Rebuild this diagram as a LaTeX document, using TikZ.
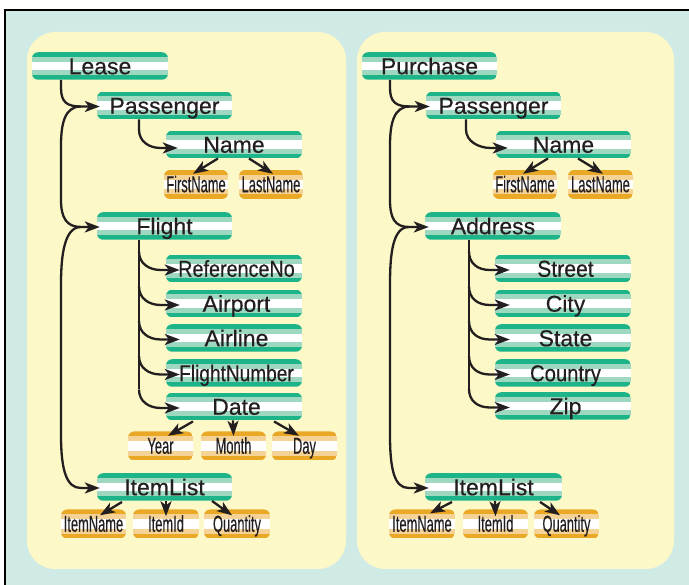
\documentclass[tikz,border=0pt]{standalone}
\usepackage{fontspec}
\setmainfont{Liberation Sans}
\newfontfamily\labelfont[FakeBold=0.45]{Liberation Sans}
\usepackage{graphicx}
\usetikzlibrary{arrows.meta,calc}

\definecolor{gdark}{RGB}{30,180,138}
\definecolor{glight}{RGB}{158,216,192}
\definecolor{odark}{RGB}{233,168,38}
\definecolor{olight}{RGB}{245,210,150}
\definecolor{cyanbg}{RGB}{208,234,229}
\definecolor{panelbg}{RGB}{252,248,200}
\definecolor{ink}{RGB}{35,31,32}

% five horizontal bands: dark / light / white / light / dark
\newcommand\pillstripes[2]{%
  \fill[#1,sharp corners] (path picture bounding box.south west) rectangle (path picture bounding box.north east);
  \fill[#2,sharp corners] ($(path picture bounding box.south west)!0.16!(path picture bounding box.north west)$) rectangle ($(path picture bounding box.north east)!0.16!(path picture bounding box.south east)$);
  \fill[white,sharp corners] ($(path picture bounding box.south west)!0.34!(path picture bounding box.north west)$) rectangle ($(path picture bounding box.north east)!0.34!(path picture bounding box.south east)$);
}
\newcommand\nar[1]{\scalebox{0.56}[1]{#1}}
\newcommand\sq[2]{\scalebox{#1}[1]{#2}}

\tikzset{
  pill/.style={rectangle, rounded corners=6pt, inner sep=0pt, text=ink},
  gpill/.style={pill, minimum height=27.5pt, font=\labelfont\fontsize{23}{23}\selectfont,
    text height=16.5pt, text depth=0pt, path picture={\pillstripes{gdark}{glight}}},
  opill/.style={pill, minimum height=29pt, font=\labelfont\fontsize{23}{23}\selectfont,
    text height=15.5pt, text depth=0pt, path picture={\pillstripes{odark}{olight}}},
  ch/.style={execute at begin node={\hspace*{5pt}}},
  wire/.style={draw=ink, line width=2.3pt},
  conn/.style={wire, -{Stealth[length=15pt,width=11pt,inset=4pt]}},
}

\begin{document}
\begin{tikzpicture}[x=1pt,y=-1pt]
\useasboundingbox (0,0) rectangle (689,585);
\fill[white] (0,0) rectangle (689,585);
\fill[cyanbg] (5,10) rectangle (689,585);
\draw[black, line width=2pt] (5,585) -- (5,10) -- (689,10);
\fill[panelbg, rounded corners=28pt] (27,32) rectangle (346,569);
\fill[panelbg, rounded corners=28pt] (357,32) rectangle (674,569);

% trunk positions
\coordinate (trunkL) at (61,0);
\coordinate (subL) at (139,0);
\coordinate (trunkR) at (390,0);
\coordinate (pnR) at (466,0);
\coordinate (subR) at (469,0);

% ---------- Lease ----------
\node[gpill, minimum width=136pt] (lease) at (100,66) {Lease};
\node[gpill, minimum width=135pt] (passL) at (164.5,105.5) {Passenger};
\node[gpill, minimum width=136pt] (nameL) at (234,144.5) {Name};
\node[opill, minimum width=64pt] (firstL) at (196,184.5) {\nar{FirstName}};
\node[opill, minimum width=64pt] (lastL) at (271,184.5) {\nar{LastName}};
\node[gpill, minimum width=135pt] (flight) at (164.5,226) {Flight};
\node[gpill, ch, minimum width=136pt] (refno) at (234,268.5) {\sq{0.86}{ReferenceNo}};
\node[gpill, ch, minimum width=136pt] (airport) at (234,303.5) {Airport};
\node[gpill, ch, minimum width=136pt] (airline) at (234,338) {Airline};
\node[gpill, ch, minimum width=136pt] (fnum) at (234,373) {\sq{0.83}{FlightNumber}};
\node[gpill, ch, minimum width=136pt] (date) at (234,406.5) {Date};
\node[opill, minimum width=65pt] (year) at (160.5,446) {\nar{Year}};
\node[opill, minimum width=65pt] (month) at (233.5,446) {\nar{Month}};
\node[opill, minimum width=65pt] (day) at (304.5,446) {\nar{Day}};
\node[gpill, minimum width=135pt] (itemL) at (164.5,487) {ItemList};
\node[opill, minimum width=65pt] (inameL) at (93.5,524) {\nar{ItemName}};
\node[opill, minimum width=66pt] (iidL) at (166,524) {\nar{ItemId}};
\node[opill, minimum width=66pt] (qtyL) at (237,524) {\nar{Quantity}};

% ---------- Purchase ----------
\node[gpill, minimum width=135pt] (purchase) at (429.5,66) {Purchase};
\node[gpill, minimum width=135pt] (passR) at (493.5,105.5) {Passenger};
\node[gpill, minimum width=135pt] (nameR) at (563.5,144.5) {Name};
\node[opill, minimum width=64pt] (firstR) at (525,184.5) {\nar{FirstName}};
\node[opill, minimum width=65pt] (lastR) at (600.5,184.5) {\nar{LastName}};
\node[gpill, minimum width=136pt] (address) at (493,226) {Address};
\node[gpill, ch, minimum width=136pt] (street) at (563,268.5) {\sq{0.92}{Street}};
\node[gpill, ch, minimum width=136pt] (city) at (563,303.5) {City};
\node[gpill, ch, minimum width=136pt] (state) at (563,338) {State};
\node[gpill, ch, minimum width=136pt] (country) at (563,373) {\sq{0.88}{Country}};
\node[gpill, ch, minimum width=136pt] (zip) at (563,406) {Zip};
\node[gpill, minimum width=137pt] (itemR) at (493.5,487) {ItemList};
\node[opill, minimum width=66pt] (inameR) at (422,524) {\nar{ItemName}};
\node[opill, minimum width=65pt] (iidR) at (495.5,524) {\nar{ItemId}};
\node[opill, minimum width=65pt] (qtyR) at (566.5,524) {\nar{Quantity}};

% ---------- Lease connectors ----------
\draw[conn] (lease.south -| trunkL) -- ++(0,8) .. controls +(0,14) and +(-14,0) .. ($(passL.west)+(-16,1)$) -- ($(passL.west)+(3,1)$);
\draw[conn] ($(passL.west)+(-16,1)$) .. controls +(-16,0) and +(0,-22) .. ($(passL.west -| trunkL)+(0,40)$)
  -- ($(flight.west -| trunkL)+(0,-26)$) .. controls +(0,18) and +(-14,0) .. ($(flight.west)+(-16,1)$) -- ($(flight.west)+(3,1)$);
\draw[conn] ($(flight.west)+(-16,1)$) .. controls +(-16,0) and +(0,-30) .. ($(flight.west -| trunkL)+(0,58)$)
  -- ($(itemL.west -| trunkL)+(0,-52)$) .. controls +(0,36) and +(-14,0) .. ($(itemL.west)+(-16,1)$) -- ($(itemL.west)+(3,1)$);

\draw[conn] (passL.south -| subL) -- ($(nameL.west -| subL)+(0,-15)$) .. controls +(0,12) and +(-12,0) .. ($(nameL.west)+(-5,3.5)$) -- ($(nameL.west)+(12,3.5)$);
\draw[conn] ($(nameL.south)+(-16,0)$) -- ($(firstL.north)+(-3,4)$);
\draw[conn] ($(nameL.south)+(15,0)$) -- ($(lastL.north)+(2,4)$);

\draw[wire] (flight.south -| subL) -- ($(date.west -| subL)+(0,-17)$);
\foreach \c in {refno,airport,airline,fnum,date}{
  \draw[conn] ($(\c.west -| subL)+(0,-17)$) .. controls +(0,12) and +(-12,0) .. ($(\c.west)+(-5,1.5)$) -- ($(\c.west)+(14,1.5)$);
}
\draw[conn] ($(date.south)+(-41,1)$) -- ($(year.north)+(7.5,4.5)$);
\draw[conn] ($(date.south)+(-1,0)$) -- ($(month.north)+(0,4.5)$);
\draw[conn] ($(date.south)+(40,1)$) -- ($(day.north)+(-5.5,4.5)$);

\draw[conn] ($(itemL.south)+(-42.5,1)$) -- ($(inameL.north)+(6.5,6)$);
\draw[conn] ($(itemL.south)+(1.5,0)$) -- ($(iidL.north)+(0,7)$);
\draw[conn] ($(itemL.south)+(47.5,0)$) -- ($(qtyL.north)+(-5,6)$);

% ---------- Purchase connectors ----------
\draw[conn] (purchase.south -| trunkR) -- ++(0,8) .. controls +(0,14) and +(-14,0) .. ($(passR.west)+(-16,1)$) -- ($(passR.west)+(4,1)$);
\draw[conn] ($(passR.west)+(-16,1)$) .. controls +(-16,0) and +(0,-22) .. ($(passR.west -| trunkR)+(0,40)$)
  -- ($(address.west -| trunkR)+(0,-26)$) .. controls +(0,18) and +(-14,0) .. ($(address.west)+(-16,1)$) -- ($(address.west)+(4,1)$);
\draw[conn] ($(address.west)+(-16,1)$) .. controls +(-16,0) and +(0,-30) .. ($(address.west -| trunkR)+(0,58)$)
  -- ($(itemR.west -| trunkR)+(0,-52)$) .. controls +(0,36) and +(-14,0) .. ($(itemR.west)+(-16,1)$) -- ($(itemR.west)+(4,1)$);

\draw[conn] (passR.south -| pnR) -- ($(nameR.west -| pnR)+(0,-15)$) .. controls +(0,12) and +(-12,0) .. ($(nameR.west)+(-5,3.5)$) -- ($(nameR.west)+(12,3.5)$);
\draw[conn] ($(nameR.south)+(-15.5,0)$) -- ($(firstR.north)+(-2,4)$);
\draw[conn] ($(nameR.south)+(14.5,0)$) -- ($(lastR.north)+(2.5,4)$);

\draw[wire] (address.south -| subR) -- ($(zip.west -| subR)+(0,-17)$);
\foreach \c in {street,city,state,country,zip}{
  \draw[conn] ($(\c.west -| subR)+(0,-17)$) .. controls +(0,12) and +(-12,0) .. ($(\c.west)+(-5,1.5)$) -- ($(\c.west)+(15,1.5)$);
}

\draw[conn] ($(itemR.south)+(-41.5,1)$) -- ($(inameR.north)+(8,4)$);
\draw[conn] ($(itemR.south)+(1.5,0)$) -- ($(iidR.north)+(0,7)$);
\draw[conn] ($(itemR.south)+(46.5,1)$) -- ($(qtyR.north)+(-6.5,6)$);
\end{tikzpicture}
\end{document}
